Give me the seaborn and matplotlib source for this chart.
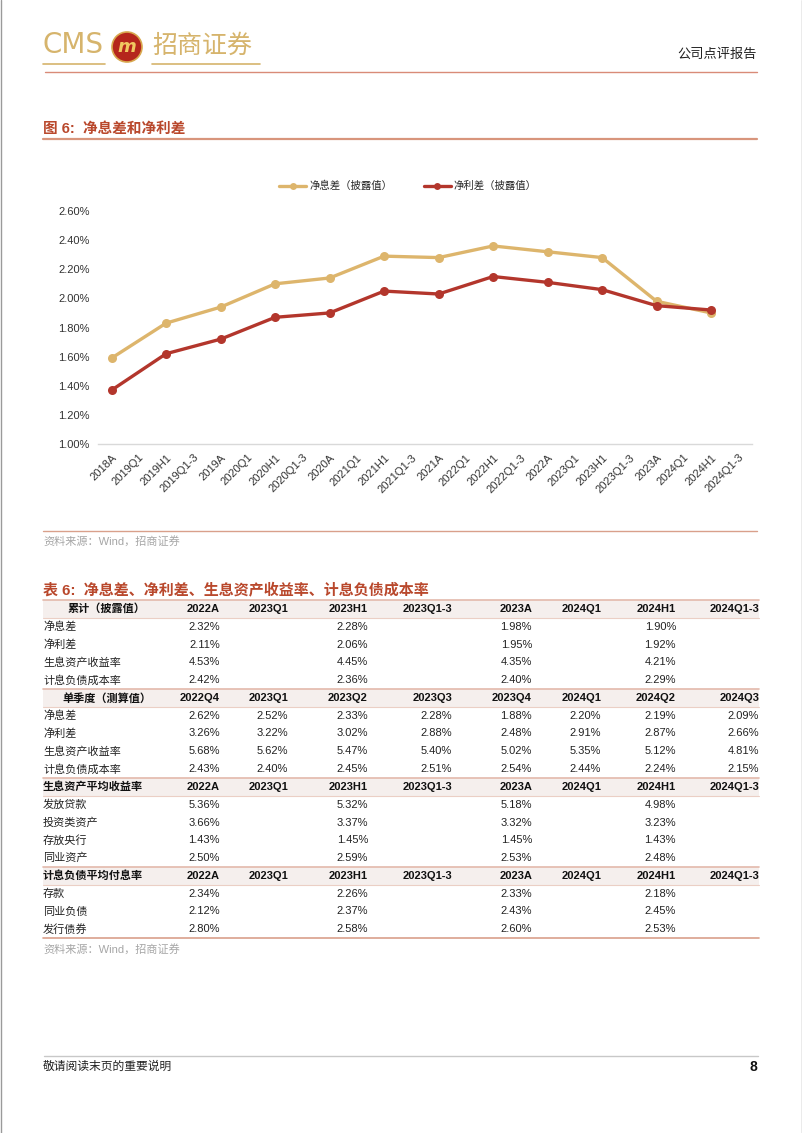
import matplotlib
matplotlib.use("Agg")
import matplotlib.pyplot as plt
from matplotlib.lines import Line2D
from matplotlib.patches import Rectangle, Circle
import numpy as np
import pandas as pd
import seaborn as sns

# chart data (percent)
periods = ['2018A', '2019Q1', '2019H1', '2019Q1-3', '2019A', '2020Q1', '2020H1', '2020Q1-3',
           '2020A', '2021Q1', '2021H1', '2021Q1-3', '2021A', '2022Q1', '2022H1', '2022Q1-3',
           '2022A', '2023Q1', '2023H1', '2023Q1-3', '2023A', '2024Q1', '2024H1', '2024Q1-3']
obs_periods = ['2018A', '2019H1', '2019A', '2020H1', '2020A', '2021H1', '2021A',
               '2022H1', '2022A', '2023H1', '2023A', '2024H1']
nim = [1.59, 1.83, 1.94, 2.10, 2.14, 2.29, 2.28, 2.36, 2.32, 2.28, 1.98, 1.90]
spread = [1.37, 1.62, 1.72, 1.87, 1.90, 2.05, 2.03, 2.15, 2.11, 2.06, 1.95, 1.92]
series_names = ['净息差（披露值）', '净利差（披露值）']
y_ticks = [1.0, 1.2, 1.4, 1.6, 1.8, 2.0, 2.2, 2.4, 2.6]

# table data
cols_cum = ['2022A', '2023Q1', '2023H1', '2023Q1-3', '2023A', '2024Q1', '2024H1', '2024Q1-3']
cols_q = ['2022Q4', '2023Q1', '2023Q2', '2023Q3', '2023Q4', '2024Q1', '2024Q2', '2024Q3']
labels_main = ['净息差', '净利差', '生息资产收益率', '计息负债成本率']
cum_vals = [
    [2.32, None, 2.28, None, 1.98, None, 1.90, None],
    [2.11, None, 2.06, None, 1.95, None, 1.92, None],
    [4.53, None, 4.45, None, 4.35, None, 4.21, None],
    [2.42, None, 2.36, None, 2.40, None, 2.29, None],
]
q_vals = [
    [2.62, 2.52, 2.33, 2.28, 1.88, 2.20, 2.19, 2.09],
    [3.26, 3.22, 3.02, 2.88, 2.48, 2.91, 2.87, 2.66],
    [5.68, 5.62, 5.47, 5.40, 5.02, 5.35, 5.12, 4.81],
    [2.43, 2.40, 2.45, 2.51, 2.54, 2.44, 2.24, 2.15],
]
labels_asset = ['发放贷款', '投资类资产', '存放央行', '同业资产']
asset_vals = [
    [5.36, None, 5.32, None, 5.18, None, 4.98, None],
    [3.66, None, 3.37, None, 3.32, None, 3.23, None],
    [1.43, None, 1.45, None, 1.45, None, 1.43, None],
    [2.50, None, 2.59, None, 2.53, None, 2.48, None],
]
labels_liab = ['存款', '同业负债', '发行债券']
liab_vals = [
    [2.34, None, 2.26, None, 2.33, None, 2.18, None],
    [2.12, None, 2.37, None, 2.43, None, 2.45, None],
    [2.80, None, 2.58, None, 2.60, None, 2.53, None],
]

sns.set_theme(style="white")
plt.rcParams['font.family'] = ['Liberation Sans', 'Noto Sans CJK SC', 'DejaVu Sans']

W, H = 802, 1133
def fx(x):
    return x / W
def fy(y):
    return 1 - y / H

GOLD = '#DDB56C'
RED = '#B3362C'
TITLE = '#B9482C'
RULE = '#D9A08B'

fig = plt.figure(figsize=(W / 100, H / 100), dpi=100)

def hline(y, x0, x1, color, lw):
    fig.add_artist(Line2D([fx(x0), fx(x1)], [fy(y), fy(y)], transform=fig.transFigure,
                          color=color, lw=lw))

# page header
fig.text(fx(43), fy(45), 'CMS', fontsize=20, color='#D6B46C', va='center', ha='left',
         family=['DejaVu Sans'])
fig.add_artist(Circle((127 / 100, (H - 47) / 100), 0.15, transform=fig.dpi_scale_trans,
                      facecolor='#B5261C', edgecolor='#D8A84E', lw=1.2))
fig.text(fx(127), fy(47), 'm', fontsize=13, color='#F0C860', fontweight='bold', style='italic',
         ha='center', va='center', family=['DejaVu Sans'])
fig.text(fx(152), fy(46), '招商证券', fontsize=18, color='#D6B46C', va='center', ha='left',
         family=['Noto Sans CJK SC'])
hline(63.5, 43, 105, '#D6B46C', 1.2)
hline(63.5, 152, 260, '#D6B46C', 1.2)
fig.text(fx(757), fy(55), '公司点评报告', fontsize=9.5, color='#222222', ha='right', va='center')
hline(72, 45, 757, '#D98B78', 1.0)
fig.add_artist(Line2D([fx(0.5), fx(0.5)], [0, 1], transform=fig.transFigure, color='#9A9A9A', lw=1))
fig.add_artist(Line2D([fx(801.5), fx(801.5)], [0, 1], transform=fig.transFigure, color='#9A9A9A', lw=1))

# figure title
fig.text(fx(43), fy(129), '图 6:  净息差和净利差', fontsize=10.5, color=TITLE, fontweight='bold',
         ha='left', va='center')
hline(139, 43, 757, '#D8957C', 1.6)

# chart
ax = fig.add_axes([fx(98), fy(444), fx(752) - fx(98), (444 - 211) / H])
pos = [periods.index(p) for p in obs_periods]
df = pd.DataFrame({
    'pos': pos * 2,
    'value': nim + spread,
    'series': [series_names[0]] * len(nim) + [series_names[1]] * len(spread),
})
sns.lineplot(data=df, x='pos', y='value', hue='series', hue_order=series_names,
             palette=[GOLD, RED], marker='o', markersize=6.5, markeredgewidth=0,
             linewidth=2.4, legend=False, ax=ax, clip_on=False)
ax.set_xlim(-0.5, len(periods) - 0.5)
ax.set_ylim(1.0, 2.6)
ax.set_yticks(y_ticks)
ax.set_yticklabels([f'{v:.2f}%' for v in y_ticks], fontsize=8, color='#333333')
ax.set_xticks(range(len(periods)))
ax.set_xticklabels(periods, fontsize=8, color='#333333', rotation=45, ha='right',
                   rotation_mode='anchor')
ax.tick_params(axis='both', length=0)
ax.tick_params(axis='y', pad=6)
ax.tick_params(axis='x', pad=6)
ax.set_xlabel('')
ax.set_ylabel('')
for s in ['top', 'right', 'left']:
    ax.spines[s].set_visible(False)
ax.spines['bottom'].set_color('#D9D9D9')
ax.spines['bottom'].set_linewidth(1)
ax.grid(False)

handles = [Line2D([], [], color=c, lw=2.4, marker='o', markersize=5, markeredgewidth=0)
           for c in [GOLD, RED]]
fig.legend(handles, series_names, loc='center', bbox_to_anchor=(fx(408), fy(186)), ncol=2,
           frameon=False, fontsize=7.5, handlelength=2.6, handletextpad=0.3, columnspacing=3)

hline(531, 43, 757, RULE, 1.0)
fig.text(fx(43), fy(541), '资料来源：Wind，招商证券', fontsize=8, color='#A6A6A6', ha='left', va='center')

# table
fig.text(fx(43), fy(590), '表 6:  净息差、净利差、生息资产收益率、计息负债成本率', fontsize=10.8,
         color=TITLE, fontweight='bold', ha='left', va='center')
col_x = [220, 288, 368, 452, 532, 601, 676, 759]
row_h = 17.8
top = 600

sections = [
    ('累计（披露值）', 'center', cols_cum, labels_main, cum_vals),
    ('单季度（测算值）', 'center', cols_q, labels_main, q_vals),
    ('生息资产平均收益率', 'left', cols_cum, labels_asset, asset_vals),
    ('计息负债平均付息率', 'left', cols_cum, labels_liab, liab_vals),
]
row = 0
for head, align, cols, labels, vals in sections:
    y0 = top + row * row_h
    fig.add_artist(Rectangle((fx(43), fy(y0 + row_h)), fx(759) - fx(43), row_h / H,
                             transform=fig.transFigure, facecolor='#F5EFED', edgecolor='none'))
    hline(y0, 43, 759, '#E3B9AB', 1.2)
    hline(y0 + row_h, 43, 759, '#EBCFC5', 0.8)
    yc = y0 + row_h / 2
    if align == 'center':
        fig.text(fx(107), fy(yc), head, fontsize=8, fontweight='bold', ha='center', va='center',
                 color='#111111')
    else:
        fig.text(fx(43), fy(yc), head, fontsize=8, fontweight='bold', ha='left', va='center',
                 color='#111111')
    for cx, c in zip(col_x, cols):
        fig.text(fx(cx), fy(yc), c, fontsize=8, fontweight='bold', ha='right', va='center',
                 color='#111111')
    row += 1
    for lab, rv in zip(labels, vals):
        yc = top + row * row_h + row_h / 2
        fig.text(fx(43), fy(yc), lab, fontsize=8, ha='left', va='center', color='#222222')
        for cx, v in zip(col_x, rv):
            if v is not None:
                fig.text(fx(cx), fy(yc), f'{v:.2f}%', fontsize=8, ha='right', va='center',
                         color='#222222')
        row += 1
hline(top + row * row_h, 43, 759, RULE, 1.2)
fig.text(fx(43), fy(949), '资料来源：Wind，招商证券', fontsize=8, color='#A6A6A6', ha='left', va='center')

# footer
hline(1056, 44, 758, '#C8C8C8', 1.0)
fig.text(fx(43), fy(1067), '敬请阅读末页的重要说明', fontsize=8.5, color='#222222', ha='left', va='center')
fig.text(fx(757), fy(1067), '8', fontsize=10, fontweight='bold', color='#111111', ha='right', va='center')

fig.savefig('out.png', dpi=100, facecolor='white')
